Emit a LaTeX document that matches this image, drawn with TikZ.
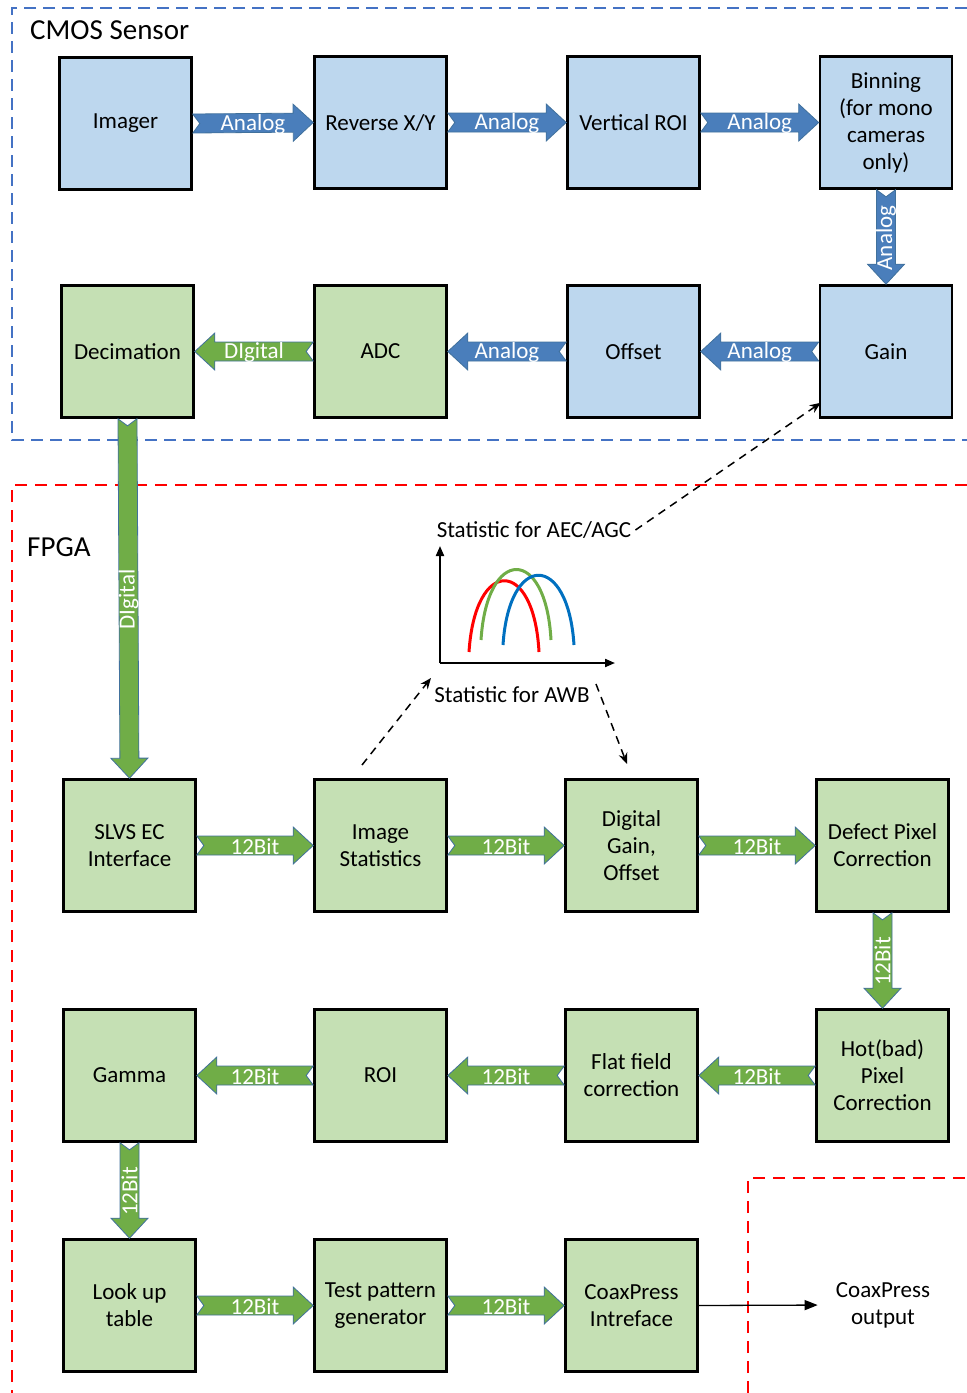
\documentclass[tikz,border=0pt]{standalone}
\usepackage{fontspec}
\setmainfont{Carlito}
\usepackage{tikz}
\usetikzlibrary{calc,arrows.meta}

\definecolor{sensorfill}{HTML}{BDD7EE}
\definecolor{fpgafill}{HTML}{C5E0B4}
\definecolor{analogblue}{HTML}{4A7EBB}
\definecolor{digitalgreen}{HTML}{70AD47}
\definecolor{arrowrim}{HTML}{41719C}
\definecolor{cmosdash}{HTML}{4472C4}
\definecolor{curvered}{HTML}{FF0000}
\definecolor{curvegreen}{HTML}{70AD47}
\definecolor{curveblue}{HTML}{0070C0}

% notched block arrow: from, to, fill, label, label angle
\newcommand{\sigarrow}[5]{%
  \path[sigshape, fill=#3] let \p1=(#1), \p2=(#2),
      \n1={veclen(\x2-\x1,\y2-\y1)}, \n2={atan2(\y2-\y1,\x2-\x1)} in
    [shift={(\p1)}, rotate=\n2]
    (0pt,9.5pt) -- ({\n1-20pt},9.5pt) -- ({\n1-20pt},18.5pt) -- ({\n1+0pt},0pt)
    -- ({\n1-20pt},-18.5pt) -- ({\n1-20pt},-9.5pt) -- (0pt,-9.5pt) -- (7pt,0pt) -- cycle;
  \node[siglabel, rotate=#5] at ($(#1)!0.5!(#2)$) {#4};
}

\begin{document}
\begin{tikzpicture}[x=1pt, y=-1pt]

\def\boxsize{132}

\tikzset{
    stage/.style={
        draw=black,
        line width=2.6pt,
        minimum width=\boxsize pt,
        minimum height=\boxsize pt,
        inner sep=2pt,
        align=center,
        font=\fontsize{23}{27}\selectfont
    },
    sensorbox/.style={stage, fill=sensorfill},
    fpgabox/.style={stage, fill=fpgafill},
    sigshape/.style={draw=arrowrim, line width=0.8pt, line join=miter},
    siglabel/.style={text=white, inner sep=0pt, yshift=-1pt, font=\fontsize{23}{26}\selectfont},
    plainlabel/.style={align=center, inner sep=4pt, font=\fontsize{23}{27}\selectfont},
    regionlabel/.style={anchor=west, inner sep=0pt, font=\fontsize{29}{32}\selectfont},
    statlink/.style={dash pattern=on 8pt off 6pt, line width=1.5pt, -{Stealth[length=11pt,width=9pt]}},
    axisline/.style={line width=2pt, -{Triangle[length=10pt,width=8pt]}},
    histcurve/.style={line width=3pt}
}

\useasboundingbox (0,0) rectangle (967,1393);

% Region frames
\draw[cmosdash, line width=1.3pt, dash pattern=on 12pt off 7pt]
    (967,8) -- (12,8) -- (12,440) -- (967,440);
\draw[red, line width=1.3pt, dash pattern=on 12pt off 8pt]
    (967,485) -- (12,485) -- (12,1393);
\draw[red, line width=1.3pt, dash pattern=on 12pt off 8pt]
    (748,1393) -- (748,1178) -- (967,1178);

\node[regionlabel] (cmoslabel) at (30,30) {CMOS Sensor};
\node[regionlabel] (fpgalabel) at (27,547) {FPGA};

% CMOS sensor stages
\node[sensorbox] (imager)  at (125.5,123.5) {Imager};
\node[sensorbox] (revxy)   at (380.5,122.5) {Reverse X/Y};
\node[sensorbox] (vroi)    at (633.5,122.5) {Vertical ROI};
\node[sensorbox] (binning) at (886,122.5) {Binning\\(for mono\\cameras\\only)};
\node[fpgabox]   (decim)   at (127.5,351.5) {Decimation};
\node[fpgabox]   (adc)     at (380.5,351.5) {ADC};
\node[sensorbox] (offset)  at (633.5,351.5) {Offset};
\node[sensorbox] (gain)    at (886,351.5) {Gain};

% FPGA stages
\node[fpgabox] (slvs)   at (129.5,845.5) {SLVS EC\\Interface};
\node[fpgabox] (istat)  at (380.5,845.5) {Image\\Statistics};
\node[fpgabox] (dgain)  at (631.5,845.5) {Digital\\Gain,\\Offset};
\node[fpgabox] (defect) at (882.5,845.5) {Defect Pixel\\Correction};
\node[fpgabox] (gamma)  at (129.5,1075.5) {Gamma};
\node[fpgabox] (roi)    at (380.5,1075.5) {ROI};
\node[fpgabox] (flat)   at (631.5,1075.5) {Flat field\\correction};
\node[fpgabox] (hotpix) at (882.5,1075.5) {Hot(bad)\\Pixel\\Correction};
\node[fpgabox] (lut)    at (129.5,1305.5) {Look up\\table};
\node[fpgabox] (tpg)    at (380.5,1305.5) {Test pattern\\generator};
\node[fpgabox] (coax)   at (631.5,1305.5) {CoaxPress\\Intreface};

% Signal arrows
\sigarrow{imager.east}{revxy.west}{analogblue}{Analog}{0}
\sigarrow{revxy.east}{vroi.west}{analogblue}{Analog}{0}
\sigarrow{vroi.east}{binning.west}{analogblue}{Analog}{0}
\sigarrow{binning.south}{gain.north}{analogblue}{Analog}{90}
\sigarrow{gain.west}{offset.east}{analogblue}{Analog}{0}
\sigarrow{offset.west}{adc.east}{analogblue}{Analog}{0}
\sigarrow{adc.west}{decim.east}{digitalgreen}{DIgital}{0}
\sigarrow{decim.south}{slvs.north}{digitalgreen}{DIgital}{90}

\sigarrow{slvs.east}{istat.west}{digitalgreen}{12Bit}{0}
\sigarrow{istat.east}{dgain.west}{digitalgreen}{12Bit}{0}
\sigarrow{dgain.east}{defect.west}{digitalgreen}{12Bit}{0}
\sigarrow{defect.south}{hotpix.north}{digitalgreen}{12Bit}{90}
\sigarrow{hotpix.west}{flat.east}{digitalgreen}{12Bit}{0}
\sigarrow{flat.west}{roi.east}{digitalgreen}{12Bit}{0}
\sigarrow{roi.west}{gamma.east}{digitalgreen}{12Bit}{0}
\sigarrow{gamma.south}{lut.north}{digitalgreen}{12Bit}{90}
\sigarrow{lut.east}{tpg.west}{digitalgreen}{12Bit}{0}
\sigarrow{tpg.east}{coax.west}{digitalgreen}{12Bit}{0}

% Statistics histogram
\node[plainlabel] (aec) at (534,530) {Statistic for AEC/AGC};
\node[plainlabel] (awb) at (512,695) {Statistic for AWB};

\coordinate (origin) at (440,663);
\coordinate (ytop) at (440,546);
\coordinate (xend) at (615,663);
\draw[axisline] (origin) -- (ytop);
\draw[axisline] (origin) -- (xend);

\draw[histcurve, curvered]   (469,652) .. controls (475,557) and (534,557) .. (539,652);
\draw[histcurve, curvegreen] (481,640) .. controls (487,546) and (546,546) .. (551,640);
\draw[histcurve, curveblue]  (503,645) .. controls (509,552) and (568,552) .. (574,645);

% Statistics feedback
\coordinate (gaintap) at ($(gain.south west)+(2,-16)$);
\coordinate (istatfoot) at (362,765);
\coordinate (awbtip) at (431,678);
\coordinate (awbfoot) at (596,684);
\coordinate (dgaintip) at (627,764);
\draw[statlink] (aec.east) -- (gaintap);
\draw[statlink] (istatfoot) -- (awbtip);
\draw[statlink] (awbfoot) -- (dgaintip);

% Output
\node[plainlabel] (cxpout) at (883,1305) {CoaxPress\\output};
\draw[line width=1.3pt, -{Triangle[length=13pt,width=10pt]}, shorten >=14pt]
    (coax.east) -- (cxpout.west);

\end{tikzpicture}
\end{document}
